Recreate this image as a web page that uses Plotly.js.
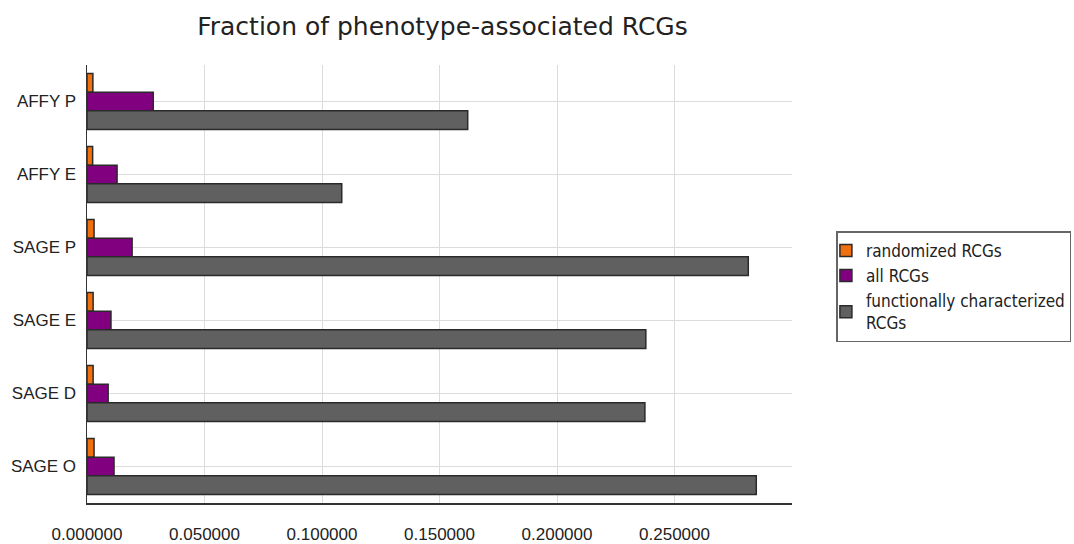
<!DOCTYPE html>
<html><head><meta charset="utf-8">
<script src="https://cdn.plot.ly/plotly-3.0.1.min.js"></script>
<style>html,body{margin:0;padding:0;background:#fff}#chart{width:1074px;height:544px}</style>
</head><body><div id="chart"></div>
<script>
const categories = ["AFFY P", "AFFY E", "SAGE P", "SAGE E", "SAGE D", "SAGE O"];
const seriesNames = ["randomized RCGs", "all RCGs", "functionally characterized<br>RCGs"];
const randomized = [0.0025, 0.0024, 0.0030, 0.0026, 0.0026, 0.0030];
const allRCGs = [0.0282, 0.0128, 0.0192, 0.0102, 0.0090, 0.0115];
const functional = [0.1620, 0.1084, 0.2814, 0.2378, 0.2374, 0.2848];
const xTicks = [0, 0.05, 0.10, 0.15, 0.20, 0.25];
const colors = ["#f07010", "#800080", "#606060"];

const vals = [randomized, allRCGs, functional];
const traces = vals.map((v, i) => ({
  type: "bar", orientation: "h", name: seriesNames[i],
  x: v, y: categories,
  marker: {color: colors[i], line: {color: "#2a2a2a", width: 1.5}},
  hoverinfo: "x+name"
}));

const tickFamily = "'Liberation Sans', Arial, sans-serif";
const layout = {
  width: 1074, height: 544,
  paper_bgcolor: "#fff", plot_bgcolor: "#fff",
  font: {family: "DejaVu Sans", color: "#222"},
  title: {text: "Fraction of phenotype-associated RCGs", x: 0.412, xanchor: "center", y: 0.952, yanchor: "middle",
          font: {family: "DejaVu Sans", size: 25, color: "#222"}},
  margin: {l: 87, r: 282, t: 65, b: 41, autoexpand: false},
  barmode: "group", bargap: 0.23, bargroupgap: 0,
  xaxis: {range: [0, 0.3], tickvals: xTicks, tickformat: ".6f",
          showgrid: true, gridcolor: "#dcdcdc", gridwidth: 1,
          showline: true, linecolor: "#333", linewidth: 1.5, zeroline: false,
          ticks: "", ticklabelstandoff: 15,
          tickfont: {family: tickFamily, size: 17, color: "#222"}},
  yaxis: {autorange: "reversed", showgrid: true, gridcolor: "#dcdcdc", gridwidth: 1,
          showline: true, linecolor: "#333", linewidth: 1.5, ticks: "",
          ticklabelstandoff: 6,
          tickfont: {family: tickFamily, size: 17, color: "#222"}},
  legend: {x: 1.063, xanchor: "left", y: 0.62, yanchor: "top",
           bordercolor: "#666", borderwidth: 1.5, bgcolor: "#fff",
           font: {family: "DejaVu Sans Condensed", size: 17, color: "#222"},
           tracegroupgap: 0, itemwidth: 30, indentation: -12},
  showlegend: true
};
Plotly.newPlot("chart", traces, layout, {displayModeBar: false, staticPlot: true});
</script></body></html>
